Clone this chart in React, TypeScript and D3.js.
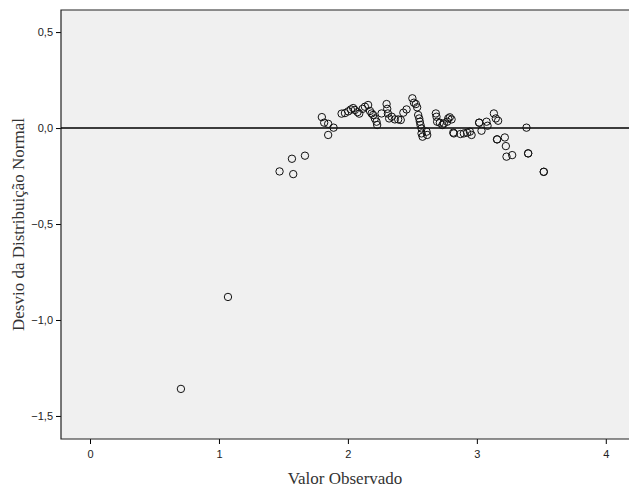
import React, { useRef, useEffect } from "react";
import * as d3 from "d3";

// observed values (x) and deviation from normal (y)
const observed = [
  0.705, 1.07, 1.47, 1.566, 1.576, 1.667,
  1.798, 1.816, 1.847, 1.847, 1.889, 1.951, 1.977, 2.003, 2.023, 2.041,
  2.054, 2.075, 2.088, 2.114, 2.132, 2.157, 2.171, 2.184, 2.196, 2.209,
  2.222, 2.227, 2.261, 2.3, 2.305, 2.31, 2.32, 2.34, 2.364, 2.39, 2.41,
  2.43, 2.455, 2.5, 2.512, 2.527, 2.537, 2.545, 2.553, 2.558, 2.563,
  2.571, 2.571, 2.579, 2.61, 2.615, 2.682, 2.687, 2.692, 2.713, 2.733,
  2.744, 2.77, 2.778, 2.79, 2.804, 2.817, 2.822, 2.873, 2.899, 2.925,
  2.946, 2.959, 3.018, 3.018, 3.036, 3.075, 3.083, 3.132, 3.147, 3.165,
  3.157, 3.157, 3.217, 3.225, 3.23, 3.274, 3.385, 3.398, 3.398, 3.519, 3.519,
];
const deviation = [
  -1.359, -0.88, -0.226, -0.16, -0.24, -0.144,
  0.057, 0.028, 0.022, -0.036, 0.002, 0.075, 0.078, 0.087, 0.097, 0.104,
  0.094, 0.083, 0.075, 0.1, 0.111, 0.12, 0.089, 0.076, 0.068, 0.05,
  0.033, 0.016, 0.076, 0.125, 0.1, 0.076, 0.05, 0.059, 0.045, 0.045, 0.042,
  0.08, 0.097, 0.155, 0.132, 0.125, 0.108, 0.068, 0.05, 0.033, 0.016,
  -0.002, -0.028, -0.045, -0.019, -0.036, 0.076, 0.059, 0.033, 0.028, 0.016,
  0.024, 0.033, 0.05, 0.056, 0.045, -0.024, -0.028, -0.031, -0.028, -0.024,
  -0.019, -0.036, 0.028, 0.028, -0.014, 0.033, 0.012, 0.076, 0.05, 0.038,
  -0.059, -0.059, -0.049, -0.094, -0.149, -0.141, 0.002, -0.132, -0.132, -0.228, -0.228,
];
const xTicks = [0, 1, 2, 3, 4];
const yTicks = [0.5, 0, -0.5, -1, -1.5];

const App = () => {
  const chartRef = useRef<SVGSVGElement>(null);

  useEffect(() => {
    const width = 629;
    const height = 494;
    const margin = { top: 10, right: 0, bottom: 55, left: 61 };
    const innerW = width - margin.left - margin.right;
    const innerH = height - margin.top - margin.bottom;

    const svg = d3.select(chartRef.current);
    svg.selectAll("*").remove();

    const g = svg
      .append("g")
      .attr("transform", `translate(${margin.left},${margin.top})`);

    const x = d3.scaleLinear().domain([-0.225, 4.18]).range([0, innerW]);
    const y = d3.scaleLinear().domain([0.615, -1.62]).range([0, innerH]);
    const fmt = (d: number) => d3.format(".1f")(d).replace(".", ",");

    g.append("rect")
      .attr("width", innerW)
      .attr("height", innerH)
      .attr("fill", "#f0f0f0");

    const xAxis = g
      .append("g")
      .attr("transform", `translate(0,${innerH})`)
      .call(d3.axisBottom(x).tickValues(xTicks).tickSize(5).tickPadding(6).tickFormat((d) => String(d)));
    const yAxis = g
      .append("g")
      .call(d3.axisLeft(y).tickValues(yTicks).tickSize(5).tickPadding(3).tickFormat((d) => fmt(+d)));
    [xAxis, yAxis].forEach((a) => {
      a.select(".domain").remove();
      a.selectAll("line").attr("stroke", "#000");
      a.selectAll("text")
        .attr("fill", "#222")
        .style("font-family", "'Liberation Sans', Arial, sans-serif")
        .style("font-size", "11px");
    });

    // frame
    g.append("path")
      .attr("d", `M${innerW},0H0V${innerH}H${innerW}`)
      .attr("fill", "none")
      .attr("stroke", "#222")
      .attr("stroke-width", 1.2);

    // zero reference line
    g.append("line")
      .attr("x1", 0)
      .attr("x2", innerW)
      .attr("y1", y(0))
      .attr("y2", y(0))
      .attr("stroke", "#000")
      .attr("stroke-width", 1.5);

    g.selectAll(".pt")
      .data(observed.map((v, i) => ({ v, d: deviation[i] })))
      .enter()
      .append("circle")
      .attr("class", "pt")
      .attr("cx", (d) => x(d.v))
      .attr("cy", (d) => y(d.d))
      .attr("r", 3.7)
      .attr("fill", "none")
      .attr("stroke", "#111")
      .attr("stroke-width", 1);

    svg
      .append("text")
      .attr("x", margin.left + innerW / 2)
      .attr("y", 484)
      .attr("text-anchor", "middle")
      .attr("fill", "#333")
      .style("font-family", "'Liberation Serif', 'DejaVu Serif', serif")
      .style("font-size", "17px")
      .text("Valor Observado");

    svg
      .append("text")
      .attr("transform", `translate(24,${margin.top + innerH / 2}) rotate(-90)`)
      .attr("text-anchor", "middle")
      .attr("fill", "#333")
      .style("font-family", "'Liberation Serif', 'DejaVu Serif', serif")
      .style("font-size", "17px")
      .text("Desvio da Distribuição Normal");
  }, []);

  return (
    <svg
      ref={chartRef}
      width={629}
      height={494}
      style={{ position: "absolute", left: 0, top: 0, background: "#fff" }}
    />
  );
};

export default App;
